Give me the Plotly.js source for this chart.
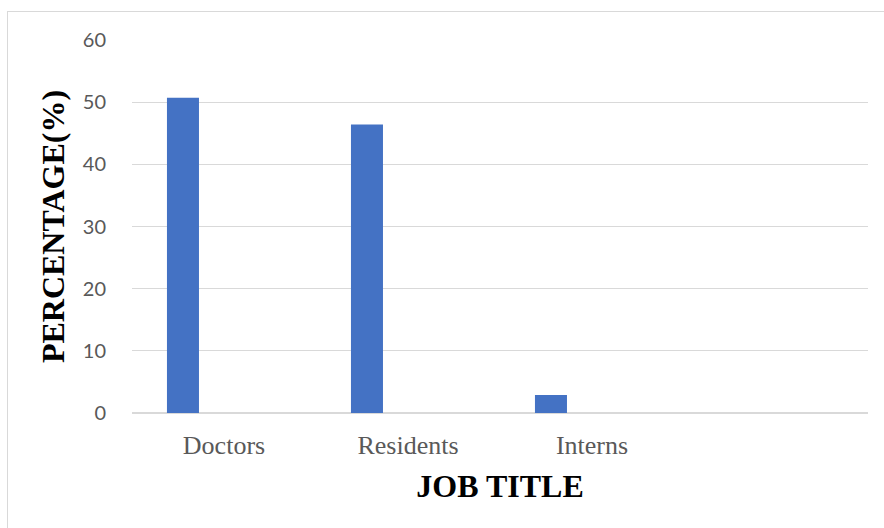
<!DOCTYPE html>
<html>
<head>
<meta charset="utf-8">
<script src="https://cdn.plot.ly/plotly-3.0.1.min.js"></script>
<style>
  html, body { margin: 0; padding: 0; background: #ffffff; }
  #wrap { position: relative; width: 884px; height: 528px; overflow: hidden; }
  #chart { width: 884px; height: 528px; }
  #frame { position: absolute; left: 7px; top: 11px; width: 900px; height: 600px;
           border-left: 1.5px solid #d9d9d9; border-top: 1.5px solid #d9d9d9; pointer-events: none; }
</style>
</head>
<body>
<div id="wrap">
  <div id="chart"></div>
  <div id="frame"></div>
</div>
<script>
const categories = ["Doctors", "Residents", "Interns", " "];
const percentages = [50.7, 46.4, 2.9, null];
const yTicks = [0, 10, 20, 30, 40, 50, 60];

const trace = {
  type: "bar",
  x: categories,
  y: percentages,
  offset: -0.31,
  width: 0.174,
  marker: { color: "#4472c4", line: { width: 0 } },
  hoverinfo: "x+y"
};

const layout = {
  width: 884,
  height: 528,
  margin: { l: 132, r: 16, t: 40, b: 115 },
  paper_bgcolor: "#ffffff",
  plot_bgcolor: "#ffffff",
  showlegend: false,
  xaxis: {
    type: "category",
    showgrid: false,
    showline: false,
    zeroline: false,
    ticks: "outside",
    ticklen: 9,
    tickcolor: "rgba(0,0,0,0)",
    tickfont: { family: "Liberation Serif, 'Times New Roman', serif", size: 26, color: "#595959" },
    title: {
      text: "JOB TITLE",
      font: { family: "Liberation Serif, 'Times New Roman', serif", size: 32, color: "#000000", weight: "bold" },
      standoff: 15
    }
  },
  yaxis: {
    range: [0, 60],
    tickvals: yTicks,
    ticktext: yTicks.map(String),
    showgrid: true,
    gridcolor: "#d9d9d9",
    gridwidth: 1.3,
    zeroline: true,
    zerolinecolor: "#d9d9d9",
    zerolinewidth: 1.3,
    showline: false,
    ticks: "outside",
    ticklen: 21,
    tickcolor: "rgba(0,0,0,0)",
    tickfont: { family: "Lato, 'Open Sans', sans-serif", size: 20, color: "#595959" },
    title: {
      text: "PERCENTAGE(%)",
      font: { family: "Liberation Serif, 'Times New Roman', serif", size: 32, color: "#000000", weight: "bold" },
      standoff: 8
    }
  }
};

Plotly.newPlot("chart", [trace], layout, { displayModeBar: false, staticPlot: true });
</script>
</body>
</html>
